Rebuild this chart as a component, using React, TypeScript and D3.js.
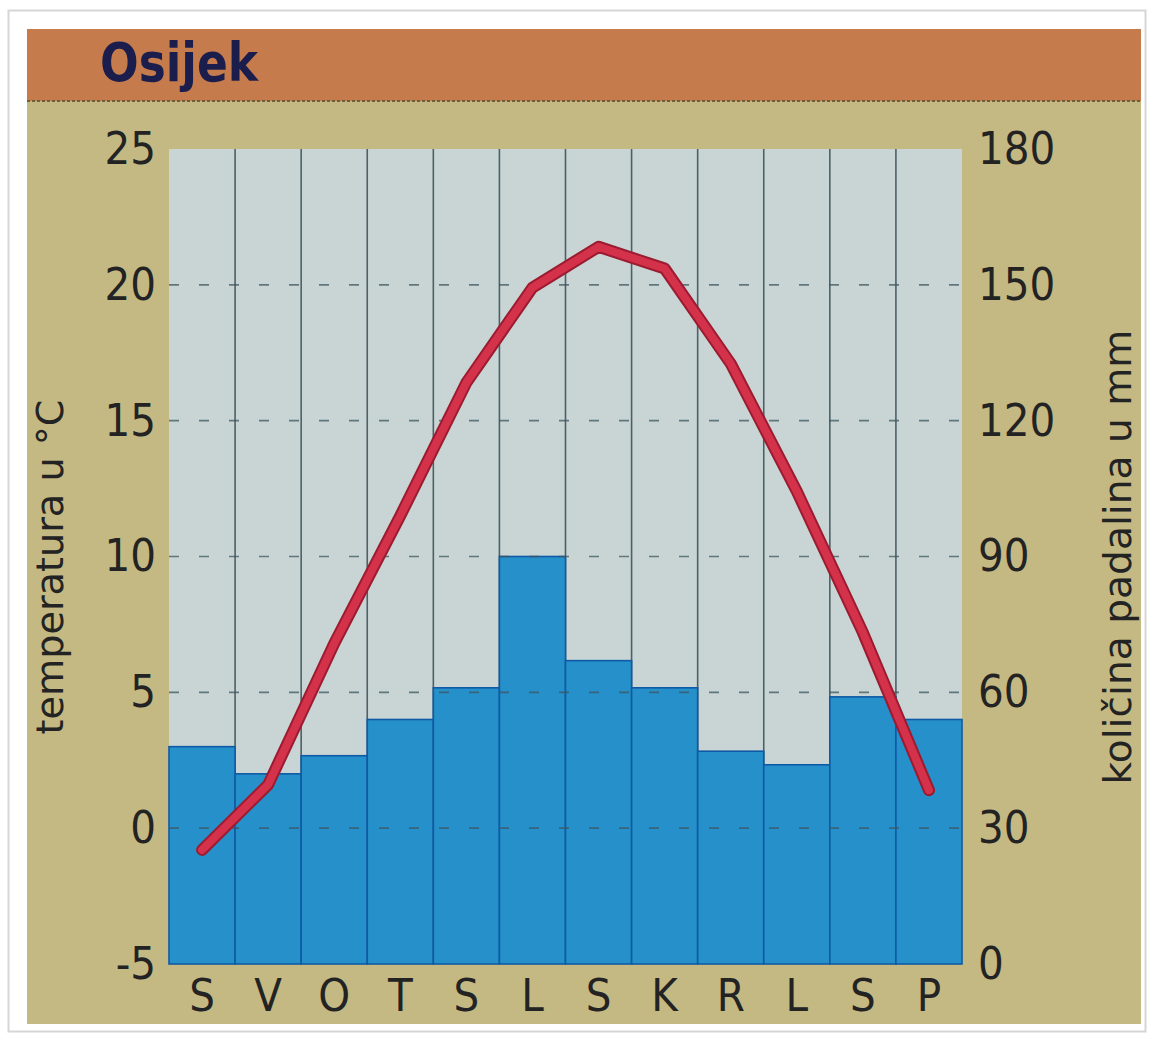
import React, { useRef, useEffect } from 'react';
import * as d3 from 'd3';

// Osijek climate chart data
const months = ['S', 'V', 'O', 'T', 'S', 'L', 'S', 'K', 'R', 'L', 'S', 'P'];
const temperature = [-0.8, 1.6, 6.8, 11.5, 16.4, 19.9, 21.4, 20.6, 17.1, 12.4, 7.2, 1.4];
const precipitation = [48, 42, 46, 54, 61, 90, 67, 61, 47, 44, 59, 54];
const tempTicks = [-5, 0, 5, 10, 15, 20, 25];
const precipTicks = [0, 30, 60, 90, 120, 150, 180];
const gridTemps = [0, 5, 10, 15, 20];

const FONT = '"DejaVu Sans", "Liberation Sans", sans-serif';

export default function App() {
    const svgRef = useRef<SVGSVGElement>(null);

    useEffect(() => {
        const W = 1152;
        const H = 1037;
        const svg = d3.select(svgRef.current);
        svg.selectAll('*').remove();

        // card frame
        svg.append('rect')
            .attr('width', W).attr('height', H).attr('fill', '#ffffff');
        svg.append('rect')
            .attr('x', 8.5).attr('y', 10.5).attr('width', 1137).attr('height', 1021)
            .attr('fill', '#ffffff').attr('stroke', '#d6d6d6').attr('stroke-width', 2);

        // header and panel
        svg.append('rect')
            .attr('x', 27).attr('y', 29).attr('width', 1114).attr('height', 72)
            .attr('fill', '#c67b4c');
        svg.append('rect')
            .attr('x', 27).attr('y', 101).attr('width', 1114).attr('height', 923)
            .attr('fill', '#c4b982');
        svg.append('line')
            .attr('x1', 27).attr('x2', 1141).attr('y1', 101).attr('y2', 101)
            .attr('stroke', '#6e5f3c').attr('stroke-width', 2).attr('stroke-dasharray', '3,2');
        svg.append('text')
            .attr('x', 100).attr('y', 81)
            .attr('font-family', FONT).attr('font-weight', 'bold')
            .style('font-stretch', 'condensed')
            .attr('font-size', 54).attr('fill', '#1b1d4d')
            .attr('textLength', 158).attr('lengthAdjust', 'spacingAndGlyphs')
            .text('Osijek');

        // scales
        const left = 169, right = 962, top = 149, bottom = 964;
        const x = d3.scaleBand<number>()
            .domain(d3.range(months.length))
            .range([left, right])
            .padding(0);
        const yTemp = d3.scaleLinear().domain([-5, 25]).range([bottom, top]);
        const yPrec = d3.scaleLinear().domain([0, 180]).range([bottom, top]);
        const bw = x.bandwidth();

        // plot background
        svg.append('rect')
            .attr('x', left).attr('y', top)
            .attr('width', right - left).attr('height', bottom - top)
            .attr('fill', '#c8d5d4');

        // vertical grid lines
        svg.append('g')
            .selectAll('line')
            .data(d3.range(1, months.length))
            .join('line')
            .attr('x1', d => x(d)!).attr('x2', d => x(d)!)
            .attr('y1', top).attr('y2', bottom)
            .attr('stroke', '#4d6068').attr('stroke-width', 1.6);

        // precipitation bars
        svg.append('g')
            .selectAll('rect')
            .data(precipitation)
            .join('rect')
            .attr('x', (d, i) => x(i)!)
            .attr('y', d => yPrec(d))
            .attr('width', bw)
            .attr('height', d => bottom - yPrec(d))
            .attr('fill', '#2590c9')
            .attr('stroke', '#0f5aa6')
            .attr('stroke-width', 1.6);

        // horizontal dashed grid lines
        svg.append('g')
            .selectAll('line')
            .data(gridTemps)
            .join('line')
            .attr('x1', left).attr('x2', right)
            .attr('y1', d => yTemp(d)).attr('y2', d => yTemp(d))
            .attr('stroke', '#3f5560').attr('stroke-width', 1.6)
            .attr('stroke-opacity', 0.75)
            .attr('stroke-dasharray', '10,20');

        // temperature line
        const line = d3.line<number>()
            .x((d, i) => x(i)! + bw / 2)
            .y(d => yTemp(d));
        svg.append('path')
            .datum(temperature)
            .attr('d', line)
            .attr('fill', 'none')
            .attr('stroke', '#9c1b30')
            .attr('stroke-width', 12)
            .attr('stroke-linejoin', 'round')
            .attr('stroke-linecap', 'round');
        svg.append('path')
            .datum(temperature)
            .attr('d', line)
            .attr('fill', 'none')
            .attr('stroke', '#d3324a')
            .attr('stroke-width', 8)
            .attr('stroke-linejoin', 'round')
            .attr('stroke-linecap', 'round');

        // axes
        const styleAxis = (g: d3.Selection<SVGGElement, unknown, null, undefined>) => {
            g.select('.domain').remove();
            g.selectAll('text')
                .attr('font-family', FONT)
                .style('font-stretch', 'condensed')
                .attr('font-size', 45)
                .attr('fill', '#232323');
        };

        svg.append('g')
            .attr('transform', `translate(${left},0)`)
            .call(d3.axisLeft(yTemp).tickValues(tempTicks).tickFormat(d => String(d)).tickSize(0).tickPadding(13))
            .call(styleAxis);

        svg.append('g')
            .attr('transform', `translate(${right},0)`)
            .call(d3.axisRight(yPrec).tickValues(precipTicks).tickFormat(d => String(d)).tickSize(0).tickPadding(16))
            .call(styleAxis);

        svg.append('g')
            .attr('transform', `translate(0,${bottom})`)
            .call(d3.axisBottom(x).tickFormat(i => months[i]).tickSize(0).tickPadding(15))
            .call(styleAxis);

        // axis titles
        svg.append('text')
            .attr('transform', `translate(63,567) rotate(-90)`)
            .attr('text-anchor', 'middle')
            .attr('font-family', FONT).attr('font-size', 37).attr('fill', '#232323')
            .attr('textLength', 335).attr('lengthAdjust', 'spacingAndGlyphs')
            .text('temperatura u °C');
        svg.append('text')
            .attr('transform', `translate(1131,557) rotate(-90)`)
            .attr('text-anchor', 'middle')
            .attr('font-family', FONT).attr('font-size', 37).attr('fill', '#232323')
            .attr('textLength', 455).attr('lengthAdjust', 'spacingAndGlyphs')
            .text('količina padalina u mm');
    }, []);

    return (
        <div style={{ position: 'absolute', left: 0, top: 0 }}>
            <svg ref={svgRef} width={1152} height={1037} style={{ display: 'block' }}></svg>
        </div>
    );
}
